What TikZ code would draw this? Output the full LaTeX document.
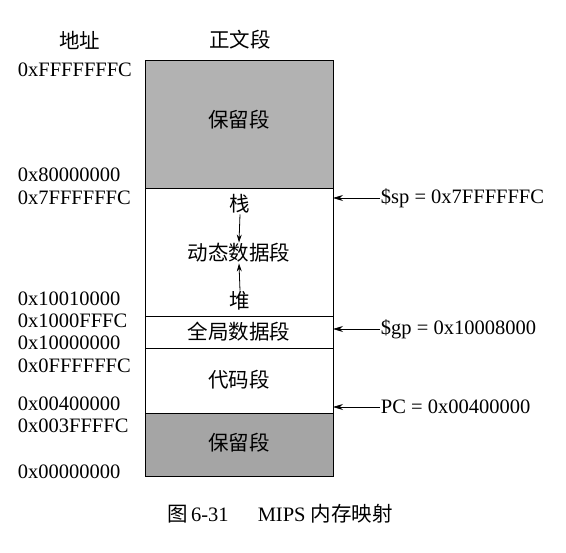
\documentclass[tikz,border=0pt]{standalone}
\usepackage{fontspec}
\setmainfont{Liberation Serif}
\newfontfamily\cjk{Noto Sans CJK SC}
\usepackage{tikz}
\usetikzlibrary{arrows.meta,calc}

\begin{document}
\begin{tikzpicture}[x=1pt,y=1pt,yscale=-1,font=\fontsize{20.5}{24}\selectfont]
\useasboundingbox (0,0) rectangle (566,553);

%Shape: Rectangle [id:top reserved]
\draw [line width=0.8, fill={rgb, 255:red, 178; green, 178; blue, 178 }] (145,60) rectangle (333,188) ;
%Shape: Rectangle [id:dynamic data]
\draw [line width=0.8] (145,188) rectangle (333,316) ;
%Shape: Rectangle [id:global data]
\draw [line width=0.8] (145,316) rectangle (333,348) ;
%Shape: Rectangle [id:text segment]
\draw [line width=0.8] (145,348) rectangle (333,413) ;
%Shape: Rectangle [id:bottom reserved]
\draw [line width=0.8, fill={rgb, 255:red, 165; green, 165; blue, 165 }] (145,413) rectangle (333,476) ;

%Edge points for the pointers
\coordinate (spedge) at (333,198) ;
\coordinate (gpedge) at (333,329) ;
\coordinate (pcedge) at (333,407) ;

% Text Node
\draw (80,40) node [inner sep=0.75pt] (addrhead) {\cjk 地址};
% Text Node
\draw (240,40) node [inner sep=0.75pt] (seghead) {\cjk 正文段};

% Text Node
\draw (17,70) node [anchor=west][inner sep=0.75pt] (aFFFC) {0xFFFFFFFC};
% Text Node
\draw (17,175) node [anchor=west][inner sep=0.75pt] (a8000) {0x80000000};
% Text Node
\draw (17,198) node [anchor=west][inner sep=0.75pt] (a7FFC) {0x7FFFFFFC};
% Text Node
\draw (17,299) node [anchor=west][inner sep=0.75pt] (a1001) {0x10010000};
% Text Node
\draw (17,321) node [anchor=west][inner sep=0.75pt] (a1000F) {0x1000FFFC};
% Text Node
\draw (17,343) node [anchor=west][inner sep=0.75pt] (a1000) {0x10000000};
% Text Node
\draw (17,366) node [anchor=west][inner sep=0.75pt] (a0FFC) {0x0FFFFFFC};
% Text Node
\draw (17,404) node [anchor=west][inner sep=0.75pt] (a0040) {0x00400000};
% Text Node
\draw (17,426) node [anchor=west][inner sep=0.75pt] (a003F) {0x003FFFFC};
% Text Node
\draw (17,472) node [anchor=west][inner sep=0.75pt] (a0000) {0x00000000};

% Text Node
\draw (239,120) node [inner sep=0.75pt] (restop) {\cjk 保留段};
% Text Node
\draw (240,204) node [inner sep=0.75pt] (stack) {\cjk 栈};
% Text Node
\draw (239,253) node [inner sep=0.75pt] (dyn) {\cjk 动态数据段};
% Text Node
\draw (240,301) node [inner sep=0.75pt] (heap) {\cjk 堆};
% Text Node
\draw (239,332) node [inner sep=0.75pt] (glob) {\cjk 全局数据段};
% Text Node
\draw (239,380) node [inner sep=0.75pt] (code) {\cjk 代码段};
% Text Node
\draw (239,443) node [inner sep=0.75pt] (resbot) {\cjk 保留段};

% Text Node
\draw (380,198) node [anchor=west][inner sep=0.75pt] (sp) {\$sp = 0x7FFFFFFC};
% Text Node
\draw (380,329) node [anchor=west][inner sep=0.75pt] (gp) {\$gp = 0x10008000};
% Text Node
\draw (380,407) node [anchor=west][inner sep=0.75pt] (pc) {PC = 0x00400000};

% Text Node
\draw (280,514) node [inner sep=0.75pt] (caption) {{\cjk 图}\,6-31\quad\, MIPS {\cjk 内存映射}};

%Straight Lines [id:stack grows down]
\draw [line width=0.8, -{Stealth[length=8pt,width=5pt]}] (stack.south) -- (dyn.north) ;
%Straight Lines [id:heap grows up]
\draw [line width=0.8, -{Stealth[length=8pt,width=5pt]}] (heap.north) -- (dyn.south) ;
%Straight Lines [id:pointers]
\draw [line width=0.8, -{Stealth[length=10pt,width=6pt]}] (sp.west) -- (spedge) ;
\draw [line width=0.8, -{Stealth[length=10pt,width=6pt]}] (gp.west) -- (gpedge) ;
\draw [line width=0.8, -{Stealth[length=10pt,width=6pt]}] (pc.west) -- (pcedge) ;

\end{tikzpicture}
\end{document}
